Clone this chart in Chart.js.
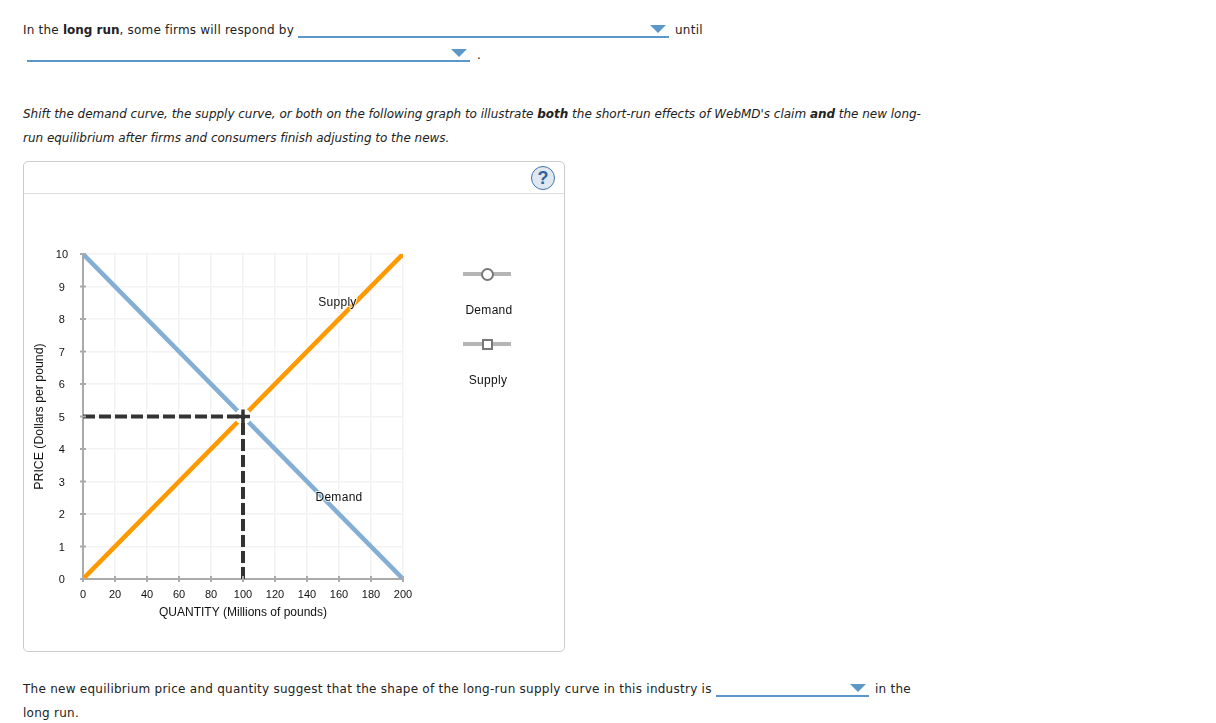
<!DOCTYPE html>
<html>
<head>
<meta charset="utf-8">
<script src="https://cdn.jsdelivr.net/npm/chart.js@4"></script>
<style>
body { margin: 0; background: #fff; font-family: "DejaVu Sans", sans-serif; font-size: 12px; color: #222; }
.t { position: absolute; white-space: nowrap; line-height: 16px; letter-spacing: 0.26px; }
.t b { letter-spacing: 0; }
.t em, .t em b { letter-spacing: -0.02px; }
.drop { position: absolute; height: 0; border-bottom: 2px solid #5b97c9; }
.drop i { position: absolute; right: 3px; bottom: 3px; width: 0; height: 0; border-left: 8px solid transparent; border-right: 8px solid transparent; border-top: 8px solid #5b97c9; }
#panel { position: absolute; left: 23px; top: 161px; width: 540px; height: 489px; border: 1px solid #ccc; border-radius: 5px; }
#head { position: absolute; left: 0; right: 0; top: 31px; border-top: 1px solid #ddd; }
#help { position: absolute; left: 507px; top: 4px; width: 22px; height: 22px; border: 1px solid #3f75a8; border-radius: 50%; background: #dfe8f1; color: #2f639a; font: bold 18px/22px "Liberation Sans", sans-serif; text-align: center; }
canvas { position: absolute; left: 24px; top: 194px; }
.bar { position: absolute; width: 48px; height: 4px; background: #b5b5b5; }
.knob { position: absolute; width: 9px; height: 9px; background: #fff; border: 2px solid #777; }
.lg { position: absolute; font: 12px "Liberation Sans", sans-serif; color: #111; width: 80px; text-align: center; letter-spacing: 0.3px; }
</style>
</head>
<body>
<div class="t" style="left:23px;top:22px;letter-spacing:0.2px">In the <b>long run</b>, some firms will respond by</div>
<div class="drop" style="left:298px;top:36px;width:371px"><i></i></div>
<div class="t" style="left:675px;top:22px">until</div>
<div class="drop" style="left:27px;top:60px;width:443px"><i></i></div>
<div class="t" style="left:477px;top:47px">.</div>
<div class="t" style="left:23px;top:106px"><em>Shift the demand curve, the supply curve, or both on the following graph to illustrate <b>both</b> the short-run effects of WebMD's claim <b>and</b> the new long-</em></div>
<div class="t" style="left:23px;top:130px"><em>run equilibrium after firms and consumers finish adjusting to the news.</em></div>

<div id="panel"><div id="head"></div><div id="help">?</div></div>
<canvas id="graph" width="540" height="457"></canvas>

<div class="bar" style="left:463px;top:272px"></div>
<div class="knob" style="left:481px;top:268px;border-radius:50%"></div>
<div class="lg" style="left:449px;top:303px">Demand</div>
<div class="bar" style="left:463px;top:342px"></div>
<div class="knob" style="left:482px;top:339px;width:7px;height:7px"></div>
<div class="lg" style="left:448px;top:373px">Supply</div>

<div class="t" style="left:23px;top:681px">The new equilibrium price and quantity suggest that the shape of the long-run supply curve in this industry is</div>
<div class="drop" style="left:716px;top:695px;width:153px"><i></i></div>
<div class="t" style="left:875px;top:681px">in the</div>
<div class="t" style="left:23px;top:705px">long run.</div>

<script>
var quantityTicks = [0, 20, 40, 60, 80, 100, 120, 140, 160, 180, 200];
var priceTicks = [0, 1, 2, 3, 4, 5, 6, 7, 8, 9, 10];

var demandX = [0, 200];
var demandY = [10, 0];
var supplyX = [0, 200];
var supplyY = [0, 10];
var priceGuideX = [0, 100];
var priceGuideY = [5, 5];
var quantityGuideX = [100, 100];
var quantityGuideY = [0, 5];
var equilibriumX = [100];
var equilibriumY = [5];

var curveNames = ["Supply", "Demand"];
var curveNameX = [159, 160];
var curveNameY = [8.49, 2.49];

function pairs(xs, ys) {
  return xs.map(function (x, i) { return { x: x, y: ys[i] }; });
}

// ticks cross the axis lines, which chart.js can't do on its own
var crossTicks = {
  id: 'crossTicks',
  afterDatasetsDraw: function (chart) {
    var c = chart.ctx, xs = chart.scales.x, ys = chart.scales.y, a = chart.chartArea;
    c.save();
    c.strokeStyle = '#aaaaaa';
    c.lineWidth = 2;
    quantityTicks.forEach(function (v) {
      var p = xs.getPixelForValue(v);
      c.beginPath(); c.moveTo(p, a.bottom - 3); c.lineTo(p, a.bottom + 3); c.stroke();
    });
    priceTicks.forEach(function (v) {
      var p = ys.getPixelForValue(v);
      c.beginPath(); c.moveTo(a.left - 3, p); c.lineTo(a.left + 3, p); c.stroke();
    });
    c.restore();
  }
};

var curveLabels = {
  id: 'curveLabels',
  afterDatasetsDraw: function (chart) {
    var c = chart.ctx;
    c.save();
    c.font = '12px "Liberation Sans", sans-serif';
    c.letterSpacing = '0.3px';
    c.textAlign = 'center';
    c.textBaseline = 'middle';
    curveNames.forEach(function (name, i) {
      var px = chart.scales.x.getPixelForValue(curveNameX[i]);
      var py = chart.scales.y.getPixelForValue(curveNameY[i]);
      c.strokeStyle = 'rgba(255,255,255,0.75)';
      c.lineWidth = 2;
      c.strokeText(name, px, py);
      c.fillStyle = '#111';
      c.fillText(name, px, py);
    });
    c.restore();
  }
};

var graph = new Chart(document.getElementById("graph"), {
  type: 'scatter',
  data: {
    datasets: [
      { label: 'Demand', data: pairs(demandX, demandY), showLine: true, borderColor: '#84aed4', borderWidth: 4.5, pointRadius: 0, order: 5 },
      { label: 'Supply', data: pairs(supplyX, supplyY), showLine: true, borderColor: '#ff9900', borderWidth: 4.5, pointRadius: 0, order: 4 },
      { label: 'halo', data: pairs(equilibriumX, equilibriumY), pointStyle: 'circle', pointRadius: 8, pointBackgroundColor: '#fff', pointBorderWidth: 0, order: 3 },
      { label: 'price guide', data: pairs(priceGuideX, priceGuideY), showLine: true, borderColor: '#333333', borderWidth: 4, borderDash: [12, 4], pointRadius: 0, order: 2 },
      { label: 'quantity guide', data: pairs(quantityGuideX, quantityGuideY), showLine: true, borderColor: '#333333', borderWidth: 4, borderDash: [12, 4], pointRadius: 0, order: 1 },
      { label: 'equilibrium', data: pairs(equilibriumX, equilibriumY), pointStyle: 'cross', pointRadius: 7, pointBorderColor: '#333333', pointBorderWidth: 3.5, order: 0 }
    ]
  },
  options: {
    responsive: false,
    animation: false,
    layout: { padding: { left: 8, right: 161, top: 60, bottom: 31 } },
    plugins: { legend: { display: false }, tooltip: { enabled: false } },
    scales: {
      x: {
        type: 'linear', min: 0, max: 200,
        afterBuildTicks: function (s) { s.ticks = quantityTicks.map(function (v) { return { value: v }; }); },
        afterFit: function (s) { s.height = 41; },
        ticks: { maxRotation: 0, padding: 9, color: '#111', font: { family: 'Liberation Sans', size: 11 } },
        grid: { color: '#f3f3f3', lineWidth: 1.5, drawTicks: false },
        border: { color: '#aaaaaa', width: 2 },
        title: { display: true, text: 'QUANTITY (Millions of pounds)', color: '#111', font: { family: 'Liberation Sans', size: 12 }, padding: { top: 4, bottom: 0 } }
      },
      y: {
        type: 'linear', min: 0, max: 10,
        afterBuildTicks: function (s) { s.ticks = priceTicks.map(function (v) { return { value: v }; }); },
        afterFit: function (s) { s.width = 51; },
        ticks: { crossAlign: 'center', padding: 15, labelOffset: 1, color: '#111', font: { family: 'Liberation Sans', size: 11 } },
        grid: { color: '#f3f3f3', lineWidth: 1.5, drawTicks: false },
        border: { color: '#aaaaaa', width: 2 },
        title: { display: true, text: 'PRICE (Dollars per pound)', color: '#111', font: { family: 'Liberation Sans', size: 12.3 }, padding: { top: 0, bottom: 4 } }
      }
    }
  },
  plugins: [crossTicks, curveLabels]
});
</script>
</body>
</html>
